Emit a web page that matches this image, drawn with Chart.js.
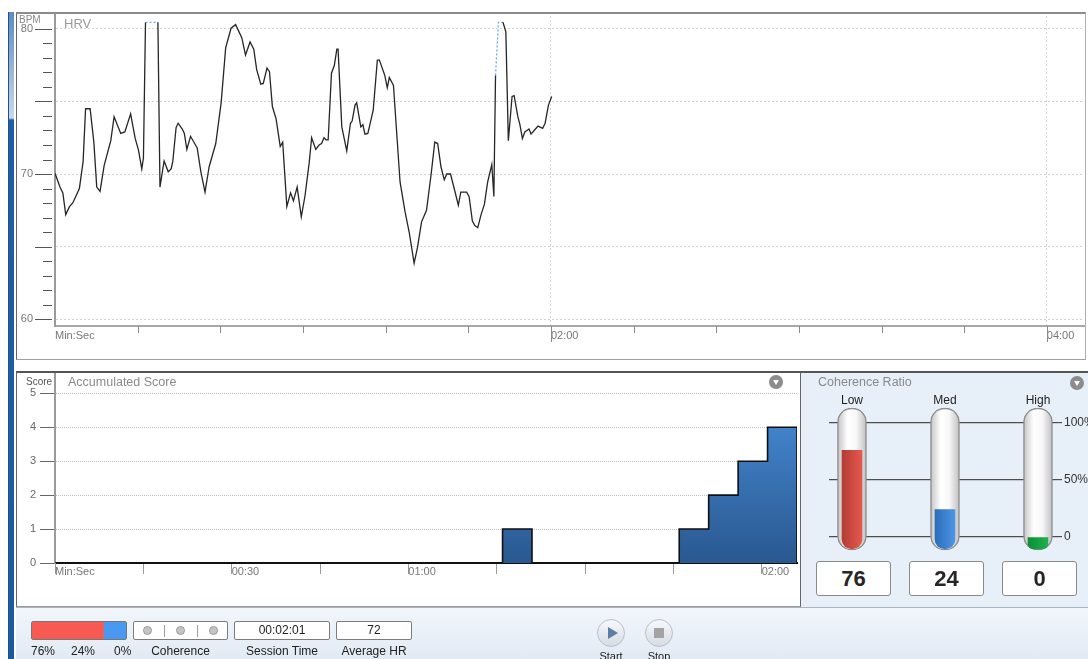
<!DOCTYPE html>
<html>
<head>
<meta charset="utf-8">
<title>HRV session</title>
<script src="https://cdn.jsdelivr.net/npm/chart.js@4.4.0/dist/chart.umd.min.js"></script>
<style>
  body { margin: 0; width: 1088px; height: 659px; overflow: hidden; background: #fff; position: relative;
         font-family: "Liberation Sans", Arial, sans-serif; color: #222; }
  canvas, .abs { position: absolute; display: block; }
  .frame { position: absolute; box-sizing: border-box; pointer-events: none; }
  .strip { left: 8px; top: 12px; width: 6px; height: 647px;
           background: linear-gradient(to bottom, #5d8cc4 0, #c9d8ea 106px, #1f5fa7 108px, #1c5a9f 100%);
           border-left: 1px solid #264f84; box-sizing: border-box; }
  .muted { color: #8a8a8a; }
  .drop { width: 14px; height: 14px; border-radius: 50%; background: #8c8c8c; }
  .drop:after { content: ''; position: absolute; left: 3.5px; top: 4.5px; border-left: 3.5px solid transparent;
                border-right: 3.5px solid transparent; border-top: 5px solid #fff; }
  .valbox { top: 561px; width: 75px; height: 35px; box-sizing: border-box; background: #fff; border: 1px solid #8a8a8a;
            border-radius: 3px; font-size: 22px; font-weight: bold; text-align: center; line-height: 33px; color: #262626; }
  .toolbar { left: 16px; top: 607px; width: 1072px; height: 52px; border-top: 1px solid #a9b4c0; box-sizing: border-box;
             background: linear-gradient(to bottom, #f2f6fb, #e1eaf4); }
  .tbox { top: 621px; height: 19px; box-sizing: border-box; background: #fff; border: 1px solid #7c7c7c; border-radius: 2px;
          font-size: 12px; text-align: center; line-height: 17px; }
  .tlabel { top: 644px; font-size: 12px; text-align: center; }
  .dot { top: 4px; width: 9px; height: 9px; border-radius: 50%; background: #c4c4c4; border: 1px solid #9a9a9a; box-sizing: border-box; }
  .btn { top: 619px; width: 28px; height: 28px; border-radius: 50%; box-sizing: border-box; border: 1px solid #b7c0cb;
         background: linear-gradient(to bottom, #f7f9fb, #d5dce5); }
</style>
</head>
<body>

<div class="abs strip"></div>

<canvas id="hrvChart" width="1070" height="348" style="left:16px;top:12px"></canvas>
<div class="frame" style="left:16px;top:12px;width:1070px;height:348px;border-top:2px solid #8c8c8c;border-left:1px solid #666;border-right:1px solid #b0b0b0;border-bottom:1px solid #a0a0a0"></div>
<div class="abs muted" style="left:19px;top:14px;font-size:10px">BPM</div>
<div class="abs" style="left:64px;top:16px;font-size:13px;color:#9a9a9a">HRV</div>

<canvas id="scoreChart" width="784" height="236" style="left:16px;top:371px"></canvas>
<div class="frame" style="left:16px;top:371px;width:785px;height:236px;border-top:2px solid #555;border-left:1px solid #666;border-right:1px solid #666;border-bottom:1px solid #999"></div>
<div class="abs" style="left:26px;top:376px;font-size:10px;color:#555">Score</div>
<div class="abs muted" style="left:68px;top:375px;font-size:12.5px">Accumulated Score</div>
<div class="abs drop" style="left:769px;top:375px"></div>

<div class="abs" style="left:801px;top:371px;width:287px;height:236px;background:#e7f0f9;border-top:2px solid #555;box-sizing:border-box"></div>
<div class="abs muted" style="left:818px;top:375px;font-size:12.5px">Coherence Ratio</div>
<div class="abs drop" style="left:1070px;top:376px"></div>
<canvas id="cohChart" width="288" height="180" style="left:800px;top:380px"></canvas>
<div class="abs valbox" id="val0" style="left:816px"></div>
<div class="abs valbox" id="val1" style="left:909px"></div>
<div class="abs valbox" id="val2" style="left:1002px"></div>

<div class="abs toolbar"></div>
<div class="abs tbox" style="left:31px;width:96px;border-color:#777"></div>
<canvas id="ratioBar" width="94" height="17" style="left:32px;top:622px"></canvas>
<div class="abs tlabel" id="pct0" style="left:31px"></div>
<div class="abs tlabel" id="pct1" style="left:71px"></div>
<div class="abs tlabel" id="pct2" style="left:114px"></div>

<div class="abs tbox" style="left:133px;width:95px;color:#999">
  <div class="abs dot" style="left:9px"></div>
  <div class="abs" style="left:29px;top:0">|</div>
  <div class="abs dot" style="left:42px"></div>
  <div class="abs" style="left:62px;top:0">|</div>
  <div class="abs dot" style="left:75px"></div>
</div>
<div class="abs tlabel" style="left:133px;width:95px">Coherence</div>
<div class="abs tbox" id="sessionBox" style="left:234px;width:96px"></div>
<div class="abs tlabel" style="left:234px;width:96px">Session Time</div>
<div class="abs tbox" id="hrBox" style="left:336px;width:76px"></div>
<div class="abs tlabel" style="left:336px;width:76px">Average HR</div>

<div class="abs btn" style="left:597px">
  <div class="abs" style="left:10px;top:7px;border-top:6px solid transparent;border-bottom:6px solid transparent;border-left:10px solid #5b7da6"></div>
</div>
<div class="abs btn" style="left:645px">
  <div class="abs" style="left:8px;top:8px;width:10px;height:10px;background:#a3a3a3"></div>
</div>
<div class="abs" style="left:597px;top:650px;width:28px;text-align:center;font-size:11px">Start</div>
<div class="abs" style="left:645px;top:650px;width:28px;text-align:center;font-size:11px">Stop</div>

<script>
'use strict';

// HRV trace: seconds from start / beats per minute
var CAP = 80.46; // trace runs off the top of the plot here
var hrvSeconds = [0, 1.2, 1.9, 2.6, 3.5, 4.3, 5.9, 6.8, 7.4, 8.5,
  9.4, 10.1, 10.9, 11.9, 13.5, 14.3, 15.9, 16.9, 18.3, 19.4,
  20.2, 21.0, 21.4, 21.9, 24.9, 25.4, 26.4, 27.4, 28.1, 28.5,
  29.3, 29.8, 30.8, 31.3, 31.9, 32.8, 34.4, 35.3, 36.3, 37.3,
  38.9, 40.2, 41.3, 42.6, 43.7, 45.2, 46.1, 47.2, 48.1, 48.8,
  49.8, 50.4, 51.3, 51.9, 52.6, 53.5, 54.5, 55.1, 56.1, 57.0,
  57.7, 58.6, 59.6, 60.5, 61.5, 62.1, 63.1, 63.9, 64.5, 65.1,
  65.6, 66.1, 66.9, 67.6, 68.2, 68.5, 69.4, 70.6, 71.5, 71.9,
  72.6, 73.0, 74.0, 74.5, 75.0, 75.7, 76.2, 77.0, 78.0, 78.5,
  79.8, 80.4, 80.9, 81.9, 83.5, 84.7, 85.7, 86.9, 87.7, 88.7,
  89.9, 91.0, 91.9, 92.6, 93.4, 94.2, 94.8, 95.7, 96.6, 97.6,
  98.2, 99.6, 100.2, 101.0, 101.6, 102.3, 103.1, 103.9, 104.7, 105.7,
  106.2, 106.6, 107.3, 108.4, 109.1, 109.7, 110.6, 111.1, 112.0, 112.5,
  113.1, 113.7, 114.7, 115.2, 116.1, 116.9, 118.0, 118.6, 119.4, 120.2];
var hrvBpm = [70.05, 69.1, 68.7, 67.2, 67.75, 68.0, 69.0, 70.85, 74.5, 74.5,
  72.2, 69.1, 68.8, 70.6, 72.3, 73.95, 72.8, 72.9, 74.15, 72.45,
  71.65, 70.35, 71.1, CAP, CAP, 69.1, 70.9, 70.15, 70.35, 70.85,
  73.2, 73.5, 73.1, 72.8, 71.7, 72.6, 71.8, 70.15, 68.75, 70.5,
  72.1, 74.9, 78.7, 80.05, 80.3, 79.4, 78.2, 79.1, 78.6, 77.2,
  76.2, 76.25, 77.3, 77.05, 74.65, 73.8, 71.9, 72.2, 67.75, 68.7,
  68.15, 69.1, 67.05, 68.5, 70.75, 72.5, 71.7, 72.0, 72.1, 72.5,
  72.35, 72.35, 76.95, 77.5, 78.6, 78.6, 73.25, 71.6, 73.5, 73.65,
  74.75, 74.9, 73.25, 73.4, 72.75, 72.8, 73.4, 74.4, 77.85, 77.85,
  76.8, 75.95, 76.65, 76.1, 69.45, 67.4, 66.0, 63.85, 64.9, 66.7,
  67.5, 69.95, 72.2, 72.1, 70.5, 69.6, 70.0, 70.0, 69.0, 67.85,
  68.75, 68.75, 68.45, 66.75, 66.45, 66.3, 67.2, 67.9, 69.45, 70.65,
  68.45, 76.8, CAP, CAP, 79.8, 72.3, 75.35, 75.4, 73.95, 73.4,
  72.45, 72.9, 73.1, 72.75, 73.05, 73.3, 73.15, 73.5, 74.75, 75.35];
var hrvLabelledBpm = [60, 70, 80];
var hrvLabelledSeconds = [120, 240];

// accumulated score steps: value holds from each time until the next
var scoreSeconds = [0, 76, 81, 106, 111, 116, 121, 126, 126];
var scoreValues = [0, 1, 0, 1, 2, 3, 4, 4, 0];
var scoreLabelledSeconds = [30, 60, 120];

var coherenceLevels = ['Low', 'Med', 'High'];
var coherenceRatio = [76, 24, 0];
var coherenceTicks = [0, 50, 100];
var sessionTime = '00:02:01';
var averageHr = 72;

var levelColors = [['#b33c35', '#e4594e'], ['#2b6dba', '#4d95e6'], ['#0e8d39', '#1db24e']];

function pad2(n) { return (n < 10 ? '0' : '') + n; }
function mmss(s) { return pad2(Math.floor(s / 60)) + ':' + pad2(s % 60); }
function range(a, b, step) { var r = []; for (var v = a; v <= b; v += step) r.push({ value: v }); return r; }
// stop the axes from pushing the plot area in to make room for half a label
function noEdgePadding(s) { s.paddingTop = 0; s.paddingBottom = 0; s.paddingLeft = 0; s.paddingRight = 0; }

Chart.defaults.font.family = '"Liberation Sans", Arial, sans-serif';
Chart.defaults.animation = false;
Chart.defaults.events = [];
Chart.defaults.plugins.legend.display = false;
Chart.defaults.plugins.tooltip.enabled = false;

// tick marks of the HRV panel: long every 5 bpm, short every 1; x every 20 s
var hrvMarks = {
  id: 'hrvMarks',
  afterDraw: function (chart) {
    var ctx = chart.ctx, y = chart.scales.y, x = chart.scales.x, area = chart.chartArea;
    ctx.save();
    ctx.strokeStyle = '#555';
    ctx.lineWidth = 1;
    for (var v = 60; v <= 80; v++) {
      var py = Math.round(y.getPixelForValue(v)) + 0.5;
      ctx.beginPath();
      ctx.moveTo(v % 5 === 0 ? 19 : 27, py);
      ctx.lineTo(36, py);
      ctx.stroke();
    }
    ctx.strokeStyle = '#8a8a8a';
    for (var t = 20; t <= 240; t += 20) {
      var px = Math.round(x.getPixelForValue(t)) + 0.5;
      ctx.beginPath();
      ctx.moveTo(px, area.bottom);
      ctx.lineTo(px, area.bottom + (t % 120 === 0 ? 16 : 7));
      ctx.stroke();
    }
    ctx.restore();
  }
};

function offScale(seg) {
  var a = seg.p0.parsed.y, b = seg.p1.parsed.y;
  return (a >= CAP && b >= CAP) || (b >= CAP && a > 76);
}

new Chart(document.getElementById('hrvChart'), {
  type: 'line',
  data: {
    datasets: [{
      data: hrvSeconds.map(function (s, i) { return { x: s, y: hrvBpm[i] }; }),
      borderColor: '#262626',
      borderWidth: 1.3,
      pointRadius: 0,
      tension: 0,
      segment: {
        borderColor: function (seg) { return offScale(seg) ? '#6aa8f0' : undefined; },
        borderDash: function (seg) { return offScale(seg) ? [2, 2] : undefined; }
      }
    }]
  },
  options: {
    responsive: false,
    layout: { padding: { top: 0, right: 2, bottom: 0, left: 0 } },
    scales: {
      x: {
        type: 'linear', min: 0, max: 249,
        afterBuildTicks: function (s) { s.ticks = range(0, 240, 20); },
        afterFit: function (s) { s.height = 34; noEdgePadding(s); },
        grid: {
          drawTicks: false,
          color: function (c) { return c.tick && hrvLabelledSeconds.indexOf(c.tick.value) >= 0 ? '#d6d6d6' : 'rgba(0,0,0,0)'; }
        },
        border: { color: '#a8a8a8', width: 2, dash: [2, 2] },
        ticks: {
          autoSkip: false, maxRotation: 0, align: 'start', padding: 3, color: '#777', font: { size: 11 },
          callback: function (v) { return v === 0 ? 'Min:Sec' : (hrvLabelledSeconds.indexOf(v) >= 0 ? mmss(v) : ''); }
        }
      },
      y: {
        min: 59.52, max: 81.17,
        afterBuildTicks: function (s) { s.ticks = range(60, 80, 1); },
        afterFit: function (s) { s.width = 39; noEdgePadding(s); },
        grid: {
          drawTicks: false,
          color: function (c) { return c.tick && c.tick.value % 5 === 0 ? '#d2d2d2' : 'rgba(0,0,0,0)'; }
        },
        border: { color: '#9a9a9a', width: 2, dash: [2, 2] },
        ticks: {
          autoSkip: false, padding: 22, color: '#777', font: { size: 11 },
          callback: function (v) { return hrvLabelledBpm.indexOf(v) >= 0 ? String(v) : ''; }
        }
      }
    }
  },
  plugins: [hrvMarks]
});

new Chart(document.getElementById('scoreChart'), {
  type: 'line',
  data: {
    datasets: [{
      data: scoreSeconds.map(function (s, i) { return { x: s, y: scoreValues[i] }; }),
      stepped: true,
      borderColor: '#111',
      borderWidth: 1.6,
      pointRadius: 0,
      fill: 'origin',
      backgroundColor: function (context) {
        var area = context.chart.chartArea;
        if (!area) return '#31669f';
        var g = context.chart.ctx.createLinearGradient(0, area.top, 0, area.bottom);
        g.addColorStop(0, '#4a93e0');
        g.addColorStop(1, '#2a5890');
        return g;
      }
    }]
  },
  options: {
    responsive: false,
    layout: { padding: { top: 2, right: 3, bottom: 0, left: 0 } },
    scales: {
      x: {
        type: 'linear', min: 0, max: 126,
        afterBuildTicks: function (s) { s.ticks = range(0, 120, 15); },
        afterFit: function (s) { s.height = 44; noEdgePadding(s); },
        grid: { drawOnChartArea: false, tickLength: 11, tickColor: '#9a9a9a', tickWidth: 1 },
        border: { color: '#111', width: 2 },
        ticks: {
          autoSkip: false, maxRotation: 0, align: 'start', padding: -9, color: '#777', font: { size: 11 },
          callback: function (v) { return v === 0 ? 'Min:Sec' : (scoreLabelledSeconds.indexOf(v) >= 0 ? mmss(v) : ''); }
        }
      },
      y: {
        min: 0, max: 5.6,
        afterBuildTicks: function (s) { s.ticks = range(0, 5, 1); },
        afterFit: function (s) { s.width = 39; noEdgePadding(s); },
        grid: {
          tickLength: 15, tickColor: '#666', tickWidth: 1, tickBorderDash: [],
          color: function (c) { return c.tick && c.tick.value > 0 ? '#bdbdbd' : 'rgba(0,0,0,0)'; }
        },
        border: { color: '#9a9a9a', width: 2, dash: [1, 1] },
        ticks: { autoSkip: false, padding: 4, color: '#666', font: { size: 11 } }
      }
    }
  }
});

function barCentre(context) {
  var x = context.chart.scales.x;
  if (!x || !context.raw) return NaN;
  return x.getPixelForValue(context.raw.x);
}

function tubeColor(context) {
  var cx = barCentre(context);
  if (!isFinite(cx)) return '#f2f2f2';
  var g = context.chart.ctx.createLinearGradient(cx - 14, 0, cx + 14, 0);
  g.addColorStop(0, '#c6c6c6');
  g.addColorStop(0.35, '#ffffff');
  g.addColorStop(0.65, '#f8f8f8');
  g.addColorStop(1, '#c2c2c2');
  return g;
}

function levelColor(context) {
  var cx = barCentre(context), c = levelColors[context.dataIndex] || levelColors[0];
  if (!isFinite(cx)) return c[1];
  var g = context.chart.ctx.createLinearGradient(cx - 10, 0, cx + 10, 0);
  g.addColorStop(0, c[0]);
  g.addColorStop(1, c[1]);
  return g;
}

new Chart(document.getElementById('cohChart'), {
  type: 'bar',
  data: {
    datasets: [{
      data: coherenceLevels.map(function (l, i) { return { x: i, y: [-11.4, 113] }; }),
      backgroundColor: tubeColor,
      borderColor: '#8e8e8e',
      borderWidth: 1.5,
      borderRadius: 14,
      borderSkipped: false,
      barThickness: 29,
      order: 2
    }, {
      data: coherenceRatio.map(function (v, i) { return { x: i, y: [-10.4, v] }; }),
      backgroundColor: levelColor,
      borderWidth: 0,
      borderRadius: { topLeft: 0, topRight: 0, bottomLeft: 10, bottomRight: 10 },
      borderSkipped: false,
      barThickness: 20,
      order: 1
    }]
  },
  options: {
    responsive: false,
    grouped: false,
    layout: { padding: { top: 0, right: 0, bottom: 9, left: 29 } },
    scales: {
      x: {
        type: 'linear', position: 'top', min: -0.247, max: 2.183, offset: false,
        afterBuildTicks: function (s) { s.ticks = range(0, 2, 1); },
        afterFit: function (s) { s.height = 27; noEdgePadding(s); },
        grid: { display: false, drawTicks: false },
        border: { display: false },
        ticks: {
          autoSkip: false, maxRotation: 0, padding: -1, color: '#222', font: { size: 12 },
          callback: function (v) { return coherenceLevels[v]; }
        }
      },
      y: {
        position: 'right', min: -12.3, max: 114,
        afterBuildTicks: function (s) { s.ticks = coherenceTicks.map(function (v) { return { value: v }; }); },
        afterFit: function (s) { s.width = 33; noEdgePadding(s); },
        grid: { color: '#4d4d4d', lineWidth: 1.2, tickLength: 7, tickColor: '#4d4d4d' },
        border: { display: false },
        ticks: {
          autoSkip: false, padding: 2, color: '#333', font: { size: 12 },
          callback: function (v) { return v === 0 ? '0' : v + '%'; }
        }
      }
    }
  }
});

new Chart(document.getElementById('ratioBar'), {
  type: 'bar',
  data: {
    labels: [''],
    datasets: coherenceRatio.map(function (v, i) {
      return { data: [v], backgroundColor: ['#f65a52', '#4a98f0', '#22a84a'][i], borderWidth: 0,
               barPercentage: 1, categoryPercentage: 1 };
    })
  },
  options: {
    responsive: false,
    indexAxis: 'y',
    layout: { padding: 0 },
    scales: {
      x: { display: false, stacked: true, min: 0, max: 100 },
      y: { display: false, stacked: true }
    }
  }
});

coherenceRatio.forEach(function (v, i) {
  document.getElementById('val' + i).textContent = v;
  document.getElementById('pct' + i).textContent = v + '%';
});
document.getElementById('sessionBox').textContent = sessionTime;
document.getElementById('hrBox').textContent = averageHr;
</script>
</body>
</html>
